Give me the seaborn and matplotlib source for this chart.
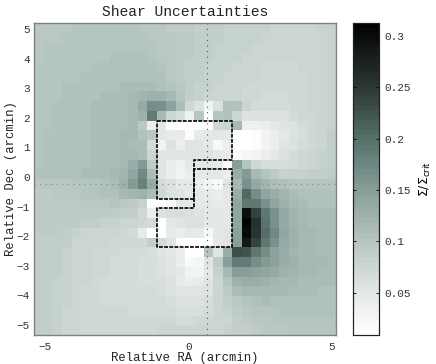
import numpy as np
import matplotlib
matplotlib.use('Agg')
import matplotlib.pyplot as plt
from matplotlib.colors import LinearSegmentedColormap
import seaborn as sns

# shear uncertainty per pixel (units of 0.001)
rows = [
    [95,97,97,98,100,100,100,100,100,100,100,99,98,96,94,92,90,88,86,85,84,83,82,81,81,80,80,80,80,80,81,81],
    [97,98,99,100,101,101,101,101,101,101,101,100,99,97,95,92,90,88,86,85,84,83,81,81,80,79,79,79,79,80,80,81],
    [98,100,101,101,102,102,102,102,102,103,103,102,100,98,95,92,90,87,85,84,83,82,81,79,78,77,77,77,78,79,80,81],
    [99,101,101,102,102,103,103,103,104,105,105,104,102,99,96,92,90,87,85,83,82,81,80,78,77,76,76,76,77,78,79,81],
    [100,101,102,102,103,103,104,105,105,106,106,106,105,101,97,92,89,86,84,82,81,80,79,77,75,75,75,75,76,77,79,81],
    [100,101,102,103,103,104,105,105,107,108,108,108,107,104,99,93,89,85,83,81,80,79,77,76,74,73,73,74,75,77,79,81],
    [101,102,103,104,105,106,106,107,108,109,110,111,111,108,103,95,89,84,81,79,78,77,75,73,71,71,71,72,74,76,79,81],
    [101,102,103,105,106,107,108,109,110,111,115,121,125,126,118,102,87,82,78,76,79,79,75,71,69,69,69,71,73,76,79,81],
    [101,102,104,105,106,108,109,110,111,113,117,133,170,165,144,112,72,60,30,60,104,104,78,69,67,67,68,71,73,76,79,81],
    [102,103,105,106,107,108,109,110,111,113,117,127,187,115,80,64,36,102,12,100,104,80,59,57,58,59,61,66,71,75,79,83],
    [103,103,105,106,107,108,110,111,112,113,117,95,38,50,14,12,12,12,12,74,77,117,35,35,42,48,56,61,66,71,76,83],
    [103,104,105,106,107,108,110,111,112,115,115,105,98,48,44,44,14,44,48,48,50,12,10,18,30,40,51,59,65,71,77,85],
    [103,104,105,106,107,108,110,111,113,115,113,110,70,28,60,38,55,55,50,20,38,10,10,18,30,42,53,61,67,73,79,86],
    [103,104,105,106,107,108,110,111,113,117,117,113,78,52,52,52,52,55,55,50,45,20,25,30,42,50,61,67,73,77,81,87],
    [103,104,105,106,107,108,110,111,113,117,130,155,93,55,42,35,50,50,48,45,14,150,100,72,65,63,65,69,73,77,81,87],
    [104,105,105,106,107,109,111,113,115,120,140,175,113,55,40,30,40,50,50,50,42,130,155,118,102,90,82,82,84,86,88,90],
    [97,97,98,99,100,101,103,105,113,127,152,180,133,68,58,48,50,42,30,20,55,115,165,134,122,112,106,102,100,100,100,100],
    [94,94,96,98,98,100,102,105,106,114,119,126,110,74,58,52,50,50,45,40,50,130,205,167,138,129,120,112,108,106,106,106],
    [93,93,94,94,94,96,98,99,100,99,94,84,12,12,20,50,50,50,48,45,50,140,190,192,162,140,126,116,111,108,108,108],
    [92,92,92,92,92,92,92,92,91,89,86,74,38,60,65,62,60,55,50,48,50,140,295,240,192,164,136,122,114,111,110,110],
    [92,92,92,92,90,86,85,84,81,78,76,72,66,12,48,55,60,58,50,48,50,140,312,258,196,164,136,122,116,112,110,110],
    [90,90,90,88,84,80,80,78,76,74,68,46,12,12,45,40,50,45,20,50,52,145,300,252,200,172,138,125,118,114,111,111],
    [88,88,88,85,80,78,78,76,75,74,72,74,86,70,55,15,12,12,12,48,52,150,285,238,192,164,136,125,118,114,111,111],
    [88,88,86,83,80,78,75,73,72,70,68,67,64,52,50,40,12,12,100,55,130,230,225,192,168,146,131,122,116,114,112,111],
    [87,87,85,83,80,78,74,72,70,67,66,65,62,58,52,38,20,25,55,92,150,185,185,168,154,146,131,123,118,116,114,112],
    [87,86,85,82,78,76,74,71,69,67,66,64,62,60,54,47,32,32,50,82,114,147,148,144,140,135,126,121,116,114,112,111],
    [86,86,84,81,78,76,73,70,69,68,67,64,62,62,60,46,42,46,54,78,102,125,128,129,125,120,117,115,113,111,110,110],
    [86,85,84,81,78,75,73,70,69,68,68,67,66,65,60,56,52,54,58,77,92,112,115,116,116,114,114,112,110,109,108,108],
    [86,85,83,81,78,75,72,70,70,70,70,69,68,67,63,60,60,61,63,76,87,98,103,107,111,108,107,107,107,107,107,107],
    [85,85,83,80,77,75,72,71,71,71,70,69,69,69,66,64,64,65,68,77,82,91,99,103,103,103,105,105,105,105,105,105],
    [85,85,83,80,77,74,73,73,73,73,72,73,72,73,72,70,70,71,74,77,80,86,93,95,98,100,103,103,103,103,103,103],
    [85,85,82,80,77,75,75,75,75,75,74,75,74,76,77,77,77,77,78,80,82,85,88,91,95,97,99,101,103,103,103,103],
]
shear_err = np.array(rows) / 1000.0

# sky position of the map edges (arcmin)
ra_left, ra_right = -5.4, 5.16
dec_top, dec_bottom = 5.2, -5.34
ra_ticks = [-5, 0, 5]
dec_ticks = [5, 4, 3, 2, 1, 0, -1, -2, -3, -4, -5]
cbar_ticks = [0.05, 0.1, 0.15, 0.2, 0.25, 0.3]
cbar_labels = ['0.05', '0.1', '0.15', '0.2', '0.25', '0.3']

# field outline in pixel numbers of the map
box1_col = [13, 21, 21, 17, 17, 13, 13]
box1_row = [10, 10, 14, 14, 18, 18, 10]
box2_col = [21, 17, 17, 13, 13, 21, 21]
box2_row = [15, 15, 19, 19, 23, 23, 15]

# cross hair through the centre
center_ra = 0.66
center_dec = -0.24

# colorbar colours
cmap_vals = [0.009, 0.05, 0.1, 0.15, 0.2, 0.25, 0.3126]
cmap_cols = ['#ffffff', '#e2e7e6', '#b6c5c2', '#869d98', '#56706a', '#2c3836', '#030303']

nmin, nmax = min(cmap_vals), max(cmap_vals)
cmap = LinearSegmentedColormap.from_list(
    'shear', [((v - nmin) / (nmax - nmin), c) for v, c in zip(cmap_vals, cmap_cols)], N=64)

n_rows, n_cols = shear_err.shape


def ra_to_col(ra):
    return (np.asarray(ra) - ra_left) / (ra_right - ra_left) * n_cols


def dec_to_row(dec):
    return (dec_top - np.asarray(dec)) / (dec_top - dec_bottom) * n_rows


plt.rcParams['font.family'] = ['Liberation Mono', 'DejaVu Sans']

fig = plt.figure(figsize=(4.36, 3.64), dpi=100)
ax = fig.add_axes([34 / 436, 1 - 335 / 364, 302 / 436, 312 / 364])
cax = fig.add_axes([353 / 436, 1 - 335 / 364, 26 / 436, 312 / 364])

sns.heatmap(shear_err, ax=ax, cbar_ax=cax, cmap=cmap, vmin=nmin, vmax=nmax,
            xticklabels=False, yticklabels=False, linewidths=0, rasterized=True)

ax.plot(box1_col, box1_row, color='black', ls=(0, (2.3, 0.8)), lw=1.2)
ax.plot(box2_col, box2_row, color='black', ls=(0, (2.3, 0.8)), lw=1.2)
ax.axvline(ra_to_col(center_ra), color='#555555', ls=(0, (1, 4)), lw=0.8)
ax.axhline(dec_to_row(center_dec), color='#8a8a8a', ls=(0, (1, 4)), lw=0.8)

ax.set_xticks(ra_to_col(ra_ticks))
ax.set_xticklabels(['\u22125', '0', '5'], fontsize=8, color='#333333')
ax.set_yticks(dec_to_row(dec_ticks))
ax.set_yticklabels([str(d).replace('-', '\u2212') for d in dec_ticks], fontsize=8,
                   rotation=0, color='#333333')
ax.tick_params(axis='y', length=0, pad=3)
ax.tick_params(axis='x', length=0, pad=5)
for s in ax.spines.values():
    s.set_visible(True)
    s.set_color('#808080')
    s.set_linewidth(1)

ax.set_xlabel('Relative RA (arcmin)', fontsize=8.8, labelpad=0, color='#222222')
ax.set_ylabel('Relative Dec (arcmin)', fontsize=8.8, labelpad=0, color='#222222')
ax.set_title('Shear Uncertainties', fontsize=10.5, pad=5, color='#222222')

cax.set_yticks(cbar_ticks)
cax.set_yticklabels(cbar_labels, fontsize=8, color='#333333')
cax.tick_params(length=2, width=0.6, direction='in', pad=4, right=True, left=True)
cax.set_ylabel(r'$\Sigma/\Sigma_{\mathrm{crit}}$', fontsize=9, labelpad=5)
for s in cax.spines.values():
    s.set_visible(True)
    s.set_color('#222222')
    s.set_linewidth(0.8)

plt.savefig('out.png', dpi=100)
